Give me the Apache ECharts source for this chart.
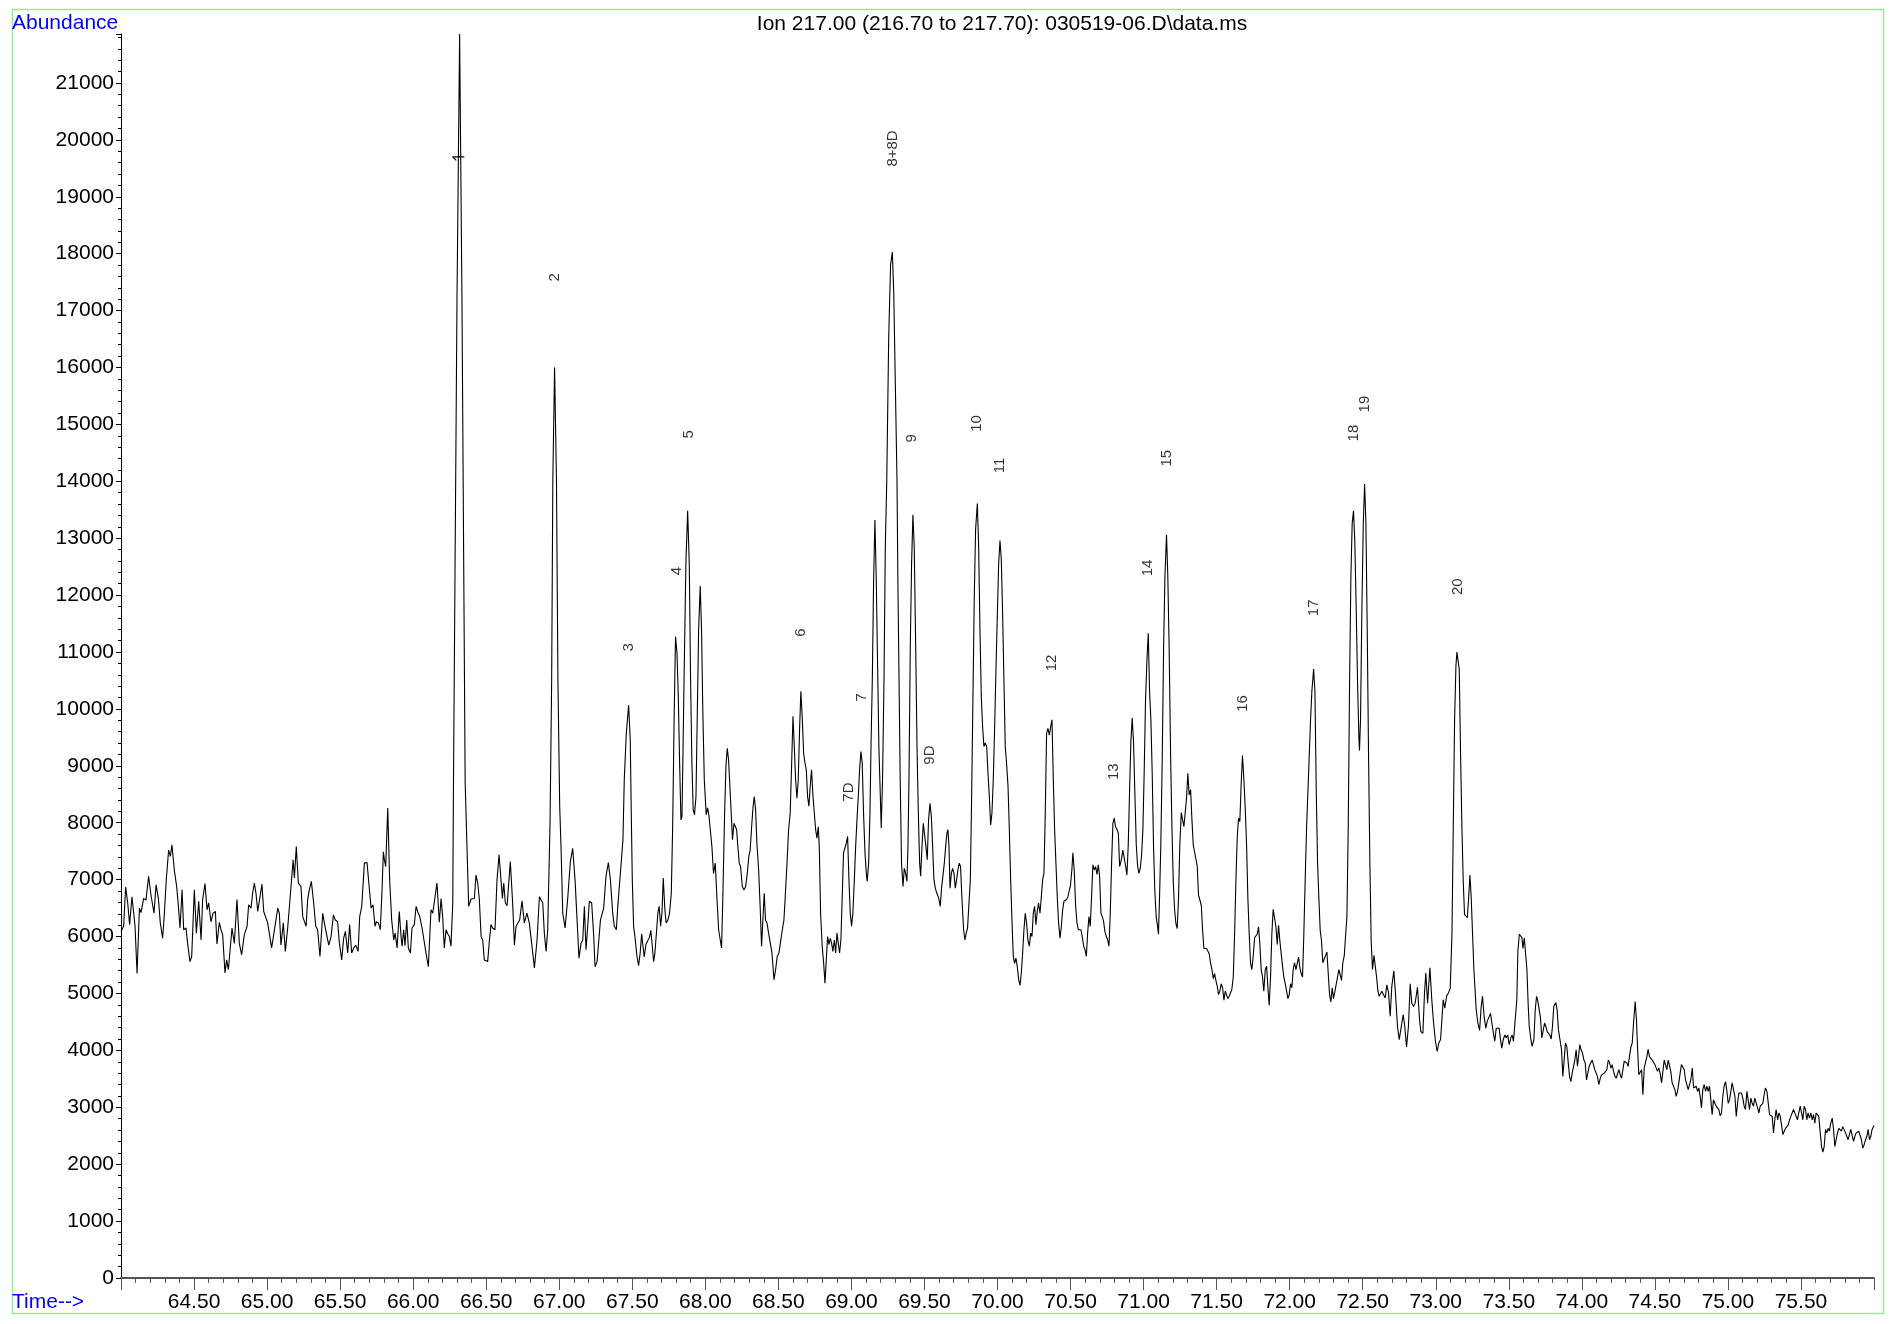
<!DOCTYPE html>
<html>
<head>
<meta charset="utf-8">
<title>Ion 217.00 chromatogram</title>
<script src="https://cdn.jsdelivr.net/npm/echarts/dist/echarts.min.js"></script>
<style>
  html, body { margin: 0; padding: 0; background: #ffffff; }
  #chart { width: 1890px; height: 1324px; }
</style>
</head>
<body>
<div id="chart"></div>
<script>
// Extracted ion chromatogram, m/z 217 — [retention time (min), abundance]
const scan64to65 = [
  [64.000,6090],[64.018,6180],[64.032,6870],[64.046,6590],[64.059,6210],[64.075,6700],[64.087,6410],[64.096,6180],
  [64.110,5350],[64.126,6500],[64.137,6420],[64.155,6670],[64.171,6640],[64.189,7060],[64.205,6730],[64.217,6760],
  [64.226,6410],[64.240,6910],[64.256,6670],[64.269,6240],[64.285,5970],[64.297,6410],[64.310,7000],[64.326,7520],
  [64.338,7410],[64.349,7610],[64.365,7170],[64.381,6880],[64.393,6530],[64.404,6150],[64.418,6820],[64.429,6120],
  [64.445,6150],[64.456,5880],[64.472,5560],[64.484,5650],[64.502,6820],[64.516,6060],[64.532,6620],[64.548,5940],
  [64.559,6650],[64.575,6930],[64.589,6470],[64.600,6590],[64.616,6260],[64.630,6410],[64.646,6440],[64.657,5870],
  [64.673,6250],[64.685,6120],[64.696,6030],[64.712,5360],[64.723,5590],[64.735,5420],[64.749,5830],[64.760,6150],
  [64.776,5880],[64.794,6650],[64.810,5880],[64.826,5680],[64.844,6030],[64.863,6180],[64.874,6560],[64.890,6500],
  [64.901,6760],[64.913,6940],[64.924,6760],[64.936,6440],[64.947,6440],[64.965,6920],[64.977,6440],[64.988,6470]
];

const scan65to66 = [
  [65.004,6240],[65.015,6240],[65.031,5800],[65.045,6030],[65.057,6060],[65.073,6500],[65.084,6410],[65.095,5850],
  [65.111,6240],[65.125,5740],[65.141,6150],[65.152,6180],[65.168,7010],[65.178,7350],[65.187,7030],[65.200,7580],
  [65.214,6940],[65.232,6880],[65.244,6350],[65.255,6320],[65.267,6180],[65.278,6650],[65.289,6820],[65.303,6970],
  [65.319,6590],[65.333,6180],[65.346,6120],[65.362,5650],[65.381,6410],[65.392,6240],[65.403,6240],[65.422,5850],
  [65.438,6000],[65.454,6380],[65.467,6290],[65.483,6260],[65.495,5880],[65.511,5590],[65.524,5970],[65.536,6090],
  [65.552,5710],[65.565,6210],[65.579,5710],[65.593,5800],[65.607,5850],[65.623,5740],[65.634,6350],[65.648,6530],
  [65.666,7290],[65.684,7300],[65.693,7290],[65.712,6500],[65.725,6560],[65.739,6180],[65.748,6260],[65.762,6240],
  [65.775,6120],[65.787,6820],[65.796,7490],[65.803,7350],[65.812,7230],[65.826,8260],[65.839,7000],[65.853,6290],
  [65.867,5940],[65.876,6060],[65.890,5800],[65.905,6440],[65.917,6000],[65.924,5830],[65.935,6120],[65.944,5840],
  [65.956,6290],[65.967,5800],[65.981,5710],[65.992,6150]
];

const scan66to67 = [
  [66.008,6210],[66.020,6530],[66.031,6440],[66.045,6350],[66.061,6150],[66.072,6120],[66.088,5710],[66.104,5470],
  [66.122,6470],[66.134,6410],[66.150,6700],[66.163,6940],[66.179,6250],[66.191,6670],[66.202,6350],[66.213,5800],
  [66.225,6120],[66.236,6050],[66.248,6000],[66.259,5830],[66.271,6590],
  [66.276,8700],[66.300,17200],[66.318,21860],[66.334,17200],[66.356,8700],
  [66.380,6530],[66.396,6660],[66.407,6650],[66.419,6670],[66.430,7080],[66.442,6940],[66.453,6650],[66.465,6000],
  [66.476,5940],[66.487,5590],[66.499,5620],[66.510,5560],[66.522,5940],[66.533,6210],[66.544,6150],[66.560,6120],
  [66.574,7000],[66.588,7440],[66.601,7000],[66.611,6670],[66.620,6940],[66.631,6590],[66.643,6540],[66.652,6530],
  [66.665,7320],[66.681,6590],[66.693,5850],[66.704,6180],[66.716,6210],[66.729,6290],[66.745,6630],[66.761,6240],
  [66.779,6410],[66.795,6240],[66.811,5880],[66.830,5450],[66.848,5940],[66.864,6700],[66.875,6730],[66.887,6590],
  [66.898,6060],[66.910,5740],[66.921,6120],
  [66.937,8000],[66.948,10500],[66.956,14000],[66.968,16000],[66.981,14000],[66.991,10500],[67.003,8300],
  [67.012,7580],[67.024,6410],[67.040,6150],[67.058,6670],[67.076,7320],[67.092,7550],[67.108,7000],[67.122,6290],
  [67.135,5620],[67.149,5880],[67.161,5940],[67.172,6530],[67.183,5770],[67.195,6180],[67.206,6620],[67.222,6590],
  [67.236,6000],[67.245,5470],[67.259,5560],[67.270,5910],[67.282,6290],[67.291,6260],[67.304,6500],[67.320,7060],
  [67.336,7300],[67.350,7000],[67.366,6410],[67.377,6180],[67.391,6120],[67.400,6500],[67.412,6500]
];

const scan67to69 = [
  [67.436,7700],[67.445,8750],[67.459,9570],[67.475,10070],[67.486,9460],[67.493,8170],[67.500,7000],[67.509,6180],
  [67.518,6000],[67.532,5650],[67.543,5490],[67.554,5710],[67.564,6050],[67.573,5830],[67.582,5640],[67.593,5860],
  [67.605,5890],[67.618,5990],[67.627,6110],[67.637,5830],[67.646,5560],[67.655,5710],[67.664,5710],[67.675,6410],
  [67.684,6530],[67.694,6180],[67.703,6410],[67.712,7030],[67.723,6470],[67.732,6240],[67.744,6290],[67.755,6410],
  [67.767,6760],[67.776,7880],[67.787,9930],[67.796,11270],[67.806,10980],[67.815,10220],[67.824,9050],[67.833,8050],
  [67.840,8110],[67.846,9050],[67.856,10800],[67.867,12560],[67.879,13480],[67.890,12560],[67.899,10510],[67.908,9050],
  [67.917,8230],[67.926,8140],[67.936,8460],[67.945,9930],[67.954,11390],[67.965,12160],[67.974,11390],[67.983,9930],
  [67.993,8750],[68.006,8140],[68.015,8260],[68.024,8140],[68.034,7880],[68.045,7580],[68.056,7110],[68.068,7290],
  [68.079,6700],[68.091,6120],[68.102,5940],[68.111,5800],[68.120,6700],[68.132,8170],[68.141,8990],[68.150,9310],
  [68.159,9110],[68.168,9080],[68.177,8170],[68.186,7700],[68.196,7990],[68.205,8020],[68.214,7880],[68.221,7640],
  [68.232,7290],[68.241,7230],[68.253,6880],[68.264,6820],[68.276,6880],[68.287,7110],[68.298,7410],[68.307,7520],
  [68.317,7930],[68.326,8260],[68.335,8460],[68.344,8230],[68.353,7640],[68.365,7170],[68.376,6470],[68.385,5830],
  [68.394,6290],[68.403,6760],[68.412,6290],[68.422,6240],[68.433,6060],[68.444,6090],[68.456,5710],[68.470,5240],
  [68.481,5420],[68.492,5650],[68.504,5710],[68.515,5910],[68.527,6120],[68.538,6290],[68.547,6700],[68.559,7290],
  [68.570,7880],[68.581,8170],[68.591,9050],[68.600,9870],[68.609,9340],[68.618,8750],[68.627,8430],[68.636,8750],
  [68.645,9630],[68.654,10310],[68.664,9810],[68.673,9220],[68.682,9050],[68.691,8930],[68.700,8460],[68.709,8290],
  [68.718,8640],[68.727,8930],[68.737,8460],[68.746,8170],[68.755,7880],[68.764,7730],[68.773,7930],[68.780,7580],
  [68.789,6410],[68.800,5830],[68.810,5530],[68.819,5180],[68.828,5590],[68.837,6000],[68.846,5860],[68.855,5970],
  [68.864,5890],[68.873,5740],[68.883,5940],[68.892,5710],[68.901,6060],[68.910,6090],[68.919,5710],[68.928,5940],
  [68.937,6700],[68.946,7470],[68.956,7440],[68.965,7640],[68.974,7760],[68.983,7000],[68.992,6410]
];

const scan69to70 = [
  [69.001,6180],[69.010,6410],[69.020,7000],[69.029,7580],[69.038,8050],[69.047,8460],[69.056,8930],[69.065,9250],
  [69.074,9050],[69.083,8170],[69.093,7470],[69.102,7110],[69.108,6970],[69.118,7290],[69.127,8170],[69.134,9340],
  [69.143,10510],[69.152,12270],[69.161,13320],[69.170,12270],[69.179,10800],[69.188,9340],[69.198,8460],[69.204,7910],
  [69.213,8750],[69.223,10510],[69.232,12850],[69.242,14020],[69.255,16500],[69.268,17800],[69.280,18030],[69.290,17300],
  [69.300,15800],[69.312,14020],[69.318,12270],[69.326,10510],[69.334,8750],[69.343,7290],[69.353,6880],[69.362,7200],
  [69.371,7110],[69.380,6970],[69.387,7580],[69.394,8750],[69.403,11100],[69.412,12560],[69.421,13410],[69.430,12850],
  [69.440,11100],[69.449,9340],[69.458,8170],[69.467,7290],[69.474,7060],[69.483,7580],[69.492,7990],[69.501,8020],
  [69.510,7580],[69.519,7350],[69.528,8050],[69.538,8340],[69.547,8110],[69.556,7580],[69.565,7000],[69.574,6850],
  [69.585,6760],[69.597,6680],[69.608,6530],[69.617,6850],[69.626,6880],[69.636,7290],[69.645,7580],[69.654,7820],
  [69.661,7880],[69.668,7580],[69.675,6850],[69.684,7110],[69.693,7200],[69.702,7110],[69.711,6850],[69.720,7000],
  [69.729,7170],[69.738,7290],[69.747,7230],[69.756,6700],[69.768,6120],[69.777,5940],[69.786,6060],[69.795,6150],
  [69.804,6180],[69.814,7000],[69.823,8460],[69.832,10220],[69.841,11970],[69.850,13150],[69.862,13610],[69.871,12850],
  [69.880,11390],[69.889,10220],[69.898,9690],[69.907,9340],[69.916,9400],[69.926,9340],[69.935,8870],[69.944,8460],
  [69.953,7960],[69.962,8170],[69.971,8750],[69.980,9630],[69.989,10630],[69.998,11560]
];

const scan70to71 = [
  [70.008,12560],[70.017,12960],[70.026,12620],[70.035,11680],[70.044,10510],[70.053,9340],[70.062,9050],[70.072,8640],
  [70.081,7880],[70.090,7000],[70.099,6290],[70.108,5650],[70.117,5530],[70.126,5620],[70.135,5480],[70.145,5240],
  [70.154,5140],[70.163,5360],[70.172,5710],[70.181,6120],[70.190,6410],[70.199,6240],[70.208,5940],[70.218,5830],
  [70.227,6060],[70.236,6000],[70.245,6410],[70.254,6530],[70.263,6210],[70.272,6440],[70.281,6590],[70.291,6410],
  [70.300,6700],[70.309,7000],[70.318,7110],[70.327,8170],[70.336,9570],[70.345,9660],[70.355,9540],[70.364,9690],
  [70.373,9810],[70.382,8750],[70.391,7880],[70.400,7290],[70.409,6700],[70.418,6240],[70.428,5970],[70.437,6180],
  [70.446,6470],[70.455,6620],[70.464,6650],[70.473,6650],[70.482,6700],[70.491,6730],[70.500,6910],[70.509,7170],
  [70.516,7470],[70.525,7170],[70.535,6530],[70.544,6240],[70.553,6120],[70.562,6090],[70.571,6120],[70.580,6000],
  [70.590,5830],[70.599,5770],[70.608,5650],[70.617,6060],[70.626,6350],[70.635,6180],[70.644,6700],[70.653,7260],
  [70.663,7170],[70.672,7230],[70.681,7090],[70.690,7260],[70.699,7060],[70.708,6410],[70.717,6350],[70.726,6270],
  [70.735,6090],[70.745,6000],[70.754,5940],[70.763,5830],[70.772,6410],[70.781,7290],[70.790,7990],[70.799,8080],
  [70.808,7930],[70.818,7880],[70.827,7820],[70.836,7230],
  [70.849,7360],[70.858,7520],[70.867,7550],[70.877,7240],[70.886,7080],[70.895,7610],[70.904,8550],[70.913,9430],
  [70.922,9840],[70.931,9430],[70.940,8550],[70.950,7610],[70.959,7240],[70.968,7110],[70.977,7200],[70.986,7420],
  [70.995,7860]
];

const scan71to72 = [
  [71.004,8870],[71.013,10120],[71.023,10870],[71.032,11330],[71.041,10310],[71.050,9810],[71.059,8870],[71.068,7610],
  [71.077,6800],[71.086,6360],[71.096,6170],[71.102,6040],[71.109,6670],[71.118,7610],[71.128,9180],[71.137,11060],
  [71.146,12320],[71.157,13060],[71.166,12320],[71.175,11060],[71.185,9180],[71.194,7930],[71.203,6980],[71.212,6480],
  [71.221,6230],[71.230,6140],[71.239,6670],[71.248,7610],[71.258,8180],[71.267,8050],[71.276,7930],[71.285,7930],
  [71.294,8430],[71.303,8870],[71.312,8490],[71.322,8580],[71.331,8050],[71.340,7610],[71.349,7490],[71.358,7520],
  [71.367,7240],[71.376,6730],[71.385,6700],[71.395,6550],[71.404,6110],[71.413,5790],[71.422,5760],[71.431,5790],
  [71.440,5760],[71.449,5700],[71.458,5540],[71.468,5420],[71.477,5260],[71.486,5350],[71.495,5230],[71.504,5130],
  [71.513,4980],[71.522,5040],[71.531,5170],[71.541,5100],[71.550,4880],[71.559,5040],[71.568,5070],[71.577,4910],
  [71.586,4950],[71.595,4980],[71.604,5070],[71.614,5290],[71.623,6040],[71.632,6980],[71.641,7740],[71.650,8080],
  [71.659,8020],[71.668,8680],[71.677,9180],[71.687,8740],[71.696,8240],[71.705,7610],[71.714,6670],[71.723,6040],
  [71.732,5540],[71.741,5420],[71.751,5670],[71.760,5980],[71.769,5950],[71.778,6040],[71.787,6170],[71.796,5860],
  [71.805,5420],[71.814,5290],[71.823,5040],[71.833,5420],[71.842,5480],[71.851,5100],[71.860,4790],[71.869,5290],
  [71.878,6040],[71.887,6480],[71.897,6480],[71.906,6170],[71.915,5860],[71.924,6200],[71.933,5920],[71.942,5920],
  [71.951,5480],[71.960,5290],[71.970,5170],[71.979,5040],[71.988,4910],[71.997,4980]
];

const scan72to73 = [
  [72.006,5170],[72.015,5100],[72.024,5420],[72.033,5540],[72.043,5420],[72.052,5450],[72.061,5640],[72.070,5450],
  [72.079,5350],[72.088,5290],[72.097,6040],[72.106,6980],[72.116,7930],[72.125,8550],[72.134,9180],[72.143,9810],
  [72.152,10310],[72.164,10700],[72.173,10310],[72.182,8550],[72.191,7300],[72.200,6670],[72.209,6110],[72.218,5920],
  [72.227,5540],[72.237,5510],[72.246,5670],[72.255,5730],[72.264,5350],[72.273,4980],[72.282,4850],[72.291,5100],
  [72.300,4910],[72.310,5040],[72.319,5170],[72.328,5290],[72.337,5420],[72.346,5420],[72.355,5230],[72.364,5540],
  [72.374,5670],[72.383,5670],[72.392,6360],[72.401,7930],[72.410,10430],[72.419,12320],[72.428,13260],[72.437,13480],
  [72.446,12940],[72.456,11690],[72.465,10430],[72.474,9490],[72.478,9270],[72.485,9810],[72.494,11690],[72.504,13260],
  [72.513,13950],[72.522,13260],[72.531,11380],[72.540,9180],[72.549,7300],[72.558,5920],[72.567,5420],[72.577,5670],
  [72.586,5670],[72.595,5290],[72.604,5040],[72.613,4950],
  [72.620,4980],[72.631,5040],[72.642,5010],[72.654,4920],[72.665,5150],[72.677,5010],[72.688,4600],[72.699,5120],
  [72.713,5400],[72.724,5010],[72.738,4420],[72.750,4190],[72.763,4200],[72.777,4630],[72.788,4420],[72.800,4060],
  [72.813,4420],[72.825,5170],[72.836,4830],[72.848,4770],[72.859,4830],[72.875,5110],[72.889,4540],[72.898,4330],
  [72.912,4300],[72.923,5010],[72.932,5360],[72.944,4830],[72.960,5450],[72.973,4890],[72.985,4480],[72.998,4160]
];

const scan73to74 = [
  [73.010,3980],[73.021,4130],[73.033,4190],[73.042,4540],[73.051,4890],[73.062,4740],[73.074,4950],[73.087,5010],
  [73.099,5090],[73.111,6040],[73.120,7930],[73.129,9810],[73.138,10750],[73.145,11000],[73.152,11030],[73.161,10690],
  [73.170,9180],[73.179,7930],[73.188,6980],[73.197,6390],[73.206,6360],[73.216,6330],[73.225,6670],[73.234,7080],
  [73.243,6670],[73.252,6040],[73.261,5420],[73.268,5120],[73.277,4710],[73.288,4480],[73.300,4350],[73.311,4770],
  [73.320,4950],[73.332,4570],[73.343,4390],[73.352,4510],[73.363,4510],[73.375,4650],[73.386,4450],[73.395,4300],
  [73.404,4160],[73.414,4390],[73.423,4360],[73.434,4390],[73.443,4190],[73.452,4040],[73.462,4190],[73.473,4270],
  [73.482,4220],[73.493,4270],[73.503,4100],[73.514,4220],[73.523,4270],[73.532,4160],[73.544,4140],[73.555,4890],
  [73.562,5730],[73.572,6040],[73.581,6040],[73.590,5980],[73.597,5790],[73.606,5980],[73.615,5980],[73.624,5420],
  [73.633,4790],[73.640,4420],[73.651,4190],[73.660,4070],[73.672,4190],[73.681,4710],[73.690,4950],[73.699,4860],
  [73.708,4890],[73.717,4570],[73.726,4220],[73.735,4190],[73.745,4480],[73.754,4420],[73.763,4330],[73.772,4360],
  [73.781,4270],[73.790,4200],[73.799,4420],[73.808,4770],[73.822,4840],[73.831,4710],[73.840,4360],[73.852,4330],
  [73.861,4010],[73.870,3540],[73.879,3830],[73.888,4130],[73.897,4070],[73.907,3780],[73.916,3540],[73.925,3450],
  [73.934,3600],[73.943,3570],[73.952,3830],[73.961,4010],[73.970,3720],[73.980,3950],[73.986,4100],[73.995,4010]
];

const scan74to75 = [
  [74.005,3950],[74.014,3830],[74.023,3780],[74.032,3480],[74.041,3480],[74.050,3720],[74.062,3750],[74.071,3830],
  [74.080,3830],[74.089,3660],[74.098,3600],[74.107,3540],[74.116,3400],[74.126,3510],[74.135,3570],[74.144,3540],
  [74.153,3600],[74.162,3570],[74.171,3660],[74.181,3830],[74.190,3780],[74.199,3690],[74.208,3750],[74.217,3630],
  [74.226,3550],[74.235,3510],[74.244,3480],[74.254,3660],[74.263,3570],[74.272,3510],[74.281,3660],[74.290,3810],
  [74.299,3830],[74.308,3780],[74.317,3720],[74.326,3890],[74.336,4060],[74.345,4130],[74.354,4480],[74.365,4860],
  [74.374,4540],[74.381,4070],[74.390,3570],[74.400,3600],[74.409,3660],[74.418,3220],[74.427,3690],[74.436,3690],
  [74.445,3890],[74.454,4020],[74.463,3890],[74.473,3890],[74.482,3830],[74.491,3810],[74.500,3750],[74.509,3720],
  [74.518,3630],[74.527,3690],[74.536,3600],[74.546,3430],[74.555,3630],[74.564,3830],[74.573,3830],[74.582,3660],
  [74.591,3830],[74.600,3830],[74.609,3630],[74.618,3430],[74.628,3450],[74.637,3310],[74.646,3190],[74.655,3280],
  [74.664,3430],[74.673,3600],[74.682,3750],[74.692,3780],[74.701,3660],[74.710,3480],[74.719,3450],[74.728,3310],
  [74.737,3280],[74.746,3480],[74.756,3690],[74.765,3340],[74.774,3310],[74.783,3370],[74.792,3280],[74.801,3340],
  [74.810,3190],[74.819,2990],[74.828,3310],[74.838,3400],[74.847,3280],[74.856,3370],[74.865,3280],[74.874,3370],
  [74.883,3130],[74.892,2870],[74.901,3130],[74.911,3070],[74.920,3020],[74.929,3020],[74.938,2960],[74.947,2850],
  [74.956,2900],[74.965,3190],[74.974,3370],[74.984,3450],[74.993,3280]
];

const scan75to76 = [
  [75.002,3070],[75.011,3130],[75.020,3100],[75.029,3430],[75.038,3450],[75.048,3190],[75.057,2840],[75.066,3070],
  [75.075,3250],[75.084,3220],[75.093,3250],[75.102,3160],[75.111,3020],[75.120,2960],[75.130,3280],[75.139,3310],
  [75.148,2960],[75.157,3160],[75.166,3070],[75.175,3020],[75.184,3160],[75.194,3130],[75.203,2990],[75.212,2900],
  [75.221,3020],[75.230,3040],[75.239,3070],[75.248,3220],[75.257,3340],[75.267,3280],[75.276,3310],[75.285,2870],
  [75.294,2900],[75.303,2840],[75.312,2550],[75.321,2780],[75.330,2960],[75.340,2780],[75.349,2900],[75.358,2840],
  [75.367,2690],[75.376,2520],[75.385,2550],[75.394,2630],[75.404,2660],[75.413,2690],[75.422,2780],[75.431,2840],
  [75.440,2870],[75.449,2960],[75.458,2990],[75.467,2840],[75.476,2780],[75.485,2900],[75.495,3020],[75.504,2900],
  [75.513,2780],[75.522,3020],[75.531,2960],[75.540,2780],[75.549,2900],[75.558,2810],[75.568,2900],[75.577,2780],
  [75.586,2870],[75.595,2720],[75.604,2900],[75.613,2870],[75.622,2840],[75.632,2550],[75.641,2310],[75.650,2210],
  [75.659,2310],[75.668,2610],[75.677,2550],[75.686,2630],[75.695,2580],[75.704,2720],[75.714,2810],[75.723,2610],
  [75.732,2310],[75.741,2430],[75.750,2550],[75.759,2630],[75.768,2660],[75.777,2580],[75.786,2660],[75.796,2630],
  [75.805,2550],[75.814,2490],[75.823,2430],[75.832,2520],[75.841,2610],[75.850,2580],[75.860,2400],[75.869,2490],
  [75.878,2550],[75.887,2520],[75.896,2580],[75.905,2550],[75.914,2430],[75.923,2280],[75.932,2340],[75.942,2430],
  [75.951,2490],[75.960,2610],[75.969,2430],[75.978,2490],[75.987,2610],[75.996,2660],[76.000,2680]
];

// Integration marker drawn on the first peak
const peak1Marker = [[66.295,19640],[66.270,19700],[66.350,19700]];

// Peak annotations: name, retention time, abundance where the text starts
const peakNames  = ['2','3','4','5','6','7D','7','8+8D','9','9D','10','11','12','13','14','15','16','17','18','19','20'];
const peakTimes  = [66.973,67.475,67.805,67.885,68.654,68.981,69.072,69.284,69.414,69.540,69.859,70.019,70.373,70.795,71.030,71.159,71.677,72.164,72.437,72.517,73.150];
const peakLabelY = [17510,11010,12350,14750,11270,8370,10130,19530,14680,9020,14870,14140,10660,8750,12330,14260,9950,11630,14700,15210,12000];

// Axis ranges
const timeMin = 64, timeMax = 76, timeStep = 0.5;
const abundanceMax = 21860, abundanceStep = 1000;

const titleText = 'Ion 217.00 (216.70 to 217.70): 030519-06.D\\data.ms';

const trace = [].concat(scan64to65, scan65to66, scan66to67, scan67to69, scan69to70,
                        scan70to71, scan71to72, scan72to73, scan73to74, scan74to75, scan75to76);

const FONT = '"Liberation Sans", Arial, Helvetica, sans-serif';

const chart = echarts.init(document.getElementById('chart'), null, { renderer: 'canvas' });

chart.setOption({
  animation: false,
  backgroundColor: '#ffffff',
  title: {
    text: titleText,
    left: 997,
    top: 9,
    textAlign: 'center',
    textStyle: { color: '#000', fontSize: 21, fontWeight: 'normal', fontFamily: FONT }
  },
  grid: {
    left: 121, right: 16, top: 34, bottom: 46,
    containLabel: false,
    outerBoundsMode: 'none'
  },
  xAxis: {
    type: 'value',
    min: timeMin,
    max: timeMax,
    interval: timeStep,
    axisLine: { show: true, onZero: false, lineStyle: { color: '#555', width: 2 } },
    axisTick: { show: true, length: 12, lineStyle: { color: '#555', width: 1 } },
    minorTick: { show: true, splitNumber: 5, length: 5, lineStyle: { color: '#555', width: 1 } },
    splitLine: { show: false },
    minorSplitLine: { show: false },
    axisLabel: {
      show: true,
      margin: 14,
      color: '#000',
      fontSize: 21,
      fontFamily: FONT,
      showMinLabel: false,
      showMaxLabel: false,
      formatter: v => v.toFixed(2)
    }
  },
  yAxis: {
    type: 'value',
    min: 0,
    max: abundanceMax,
    interval: abundanceStep,
    axisLine: { show: true, onZero: false, lineStyle: { color: '#000', width: 1 } },
    axisTick: { show: true, length: 5, lineStyle: { color: '#000', width: 1 } },
    minorTick: { show: true, splitNumber: 5, length: 3, lineStyle: { color: '#000', width: 1 } },
    splitLine: { show: false },
    minorSplitLine: { show: false },
    axisLabel: {
      show: true,
      margin: 7,
      color: '#000',
      fontSize: 21,
      fontFamily: FONT,
      showMaxLabel: false,
      formatter: v => String(Math.round(v))
    }
  },
  graphic: [
    {
      type: 'rect',
      silent: true,
      shape: { x: 12.5, y: 9.5, width: 1871, height: 1304 },
      style: { fill: 'none', stroke: '#95ec95', lineWidth: 1.5 },
      z: 0
    },
    {
      type: 'text',
      left: 12, top: 13,
      silent: true,
      style: { text: 'Abundance', fill: '#0000ff', font: '21px ' + FONT }
    },
    {
      type: 'text',
      left: 12, top: 1292,
      silent: true,
      style: { text: 'Time-->', fill: '#0000ff', font: '21px ' + FONT }
    }
  ],
  series: [
    {
      name: 'Ion 217.00',
      type: 'line',
      data: trace,
      showSymbol: false,
      symbol: 'none',
      smooth: false,
      clip: true,
      silent: true,
      lineStyle: { color: '#000', width: 1.1 },
      z: 3
    },
    {
      name: 'marker',
      type: 'line',
      data: peak1Marker,
      showSymbol: false,
      symbol: 'none',
      silent: true,
      lineStyle: { color: '#000', width: 1.2 },
      z: 4
    },
    {
      name: 'peaks',
      type: 'scatter',
      silent: true,
      symbolSize: 1,
      itemStyle: { color: 'rgba(0,0,0,0)' },
      data: peakNames.map((n, i) => ({ name: n, value: [peakTimes[i], peakLabelY[i]] })),
      label: {
        show: true,
        position: 'inside',
        formatter: '{b}',
        rotate: 90,
        align: 'left',
        verticalAlign: 'middle',
        color: '#000',
        fontSize: 15,
        fontFamily: FONT
      },
      z: 5
    }
  ]
});
</script>
</body>
</html>
